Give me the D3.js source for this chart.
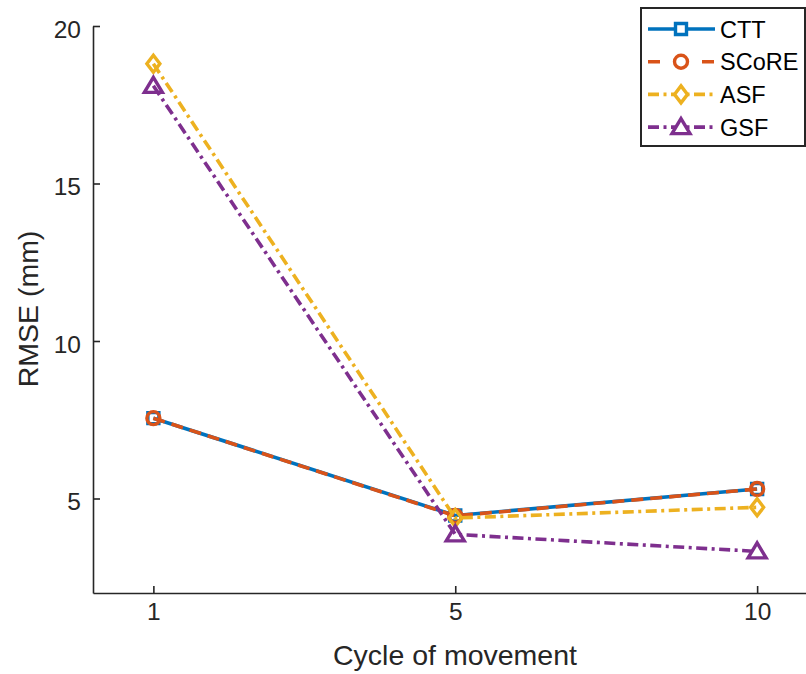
<!DOCTYPE html>
<html>
<head>
<meta charset="utf-8">
<script src="https://cdn.jsdelivr.net/npm/d3@7"></script>
<style>
  body { margin: 0; background: #fff; }
  text { font-family: "Liberation Sans", Arial, sans-serif; }
</style>
</head>
<body>
<svg id="chart"></svg>
<script>
// data
const cycles = ["1", "5", "10"];
const seriesNames = ["CTT", "SCoRE", "ASF", "GSF"];
const cttValues = [7.55, 4.46, 5.3];
const scoreValues = [7.55, 4.45, 5.3];
const asfValues = [18.8, 4.38, 4.72];
const gsfValues = [18.1, 3.86, 3.32];
const yTicks = [5, 10, 15, 20];

const W = 806, H = 674;
const svg = d3.select("#chart").attr("width", W).attr("height", H);

const x = d3.scaleLinear().domain([0.8, 3.2]).range([93, 817.5]);
const y = d3.scaleLinear().domain([2, 20]).range([593, 26]);

const axisColor = "#262626";

// y axis
const gy = svg.append("g")
  .attr("transform", "translate(93,0)")
  .call(d3.axisLeft(y).tickValues(yTicks).tickSizeInner(-7).tickSizeOuter(0).tickPadding(12));
gy.selectAll("text").attr("font-size", 24.5).attr("dy", "0.45em");

// x axis
const gx = svg.append("g")
  .attr("transform", "translate(0,593)")
  .call(d3.axisBottom(x).tickValues([1, 2, 3]).tickFormat((d, i) => cycles[i])
    .tickSizeInner(-7).tickSizeOuter(0).tickPadding(10));
gx.selectAll("text").attr("font-size", 24.5);

svg.selectAll(".domain, .tick line").attr("stroke", axisColor).attr("stroke-width", 1.6);
svg.selectAll(".tick text").attr("fill", axisColor).attr("font-family", "Liberation Sans, Arial, sans-serif");

svg.append("text")
  .attr("x", 455).attr("y", 665)
  .attr("text-anchor", "middle")
  .attr("font-size", 28.5).attr("fill", axisColor)
  .text("Cycle of movement");

svg.append("text")
  .attr("transform", "translate(38,309) rotate(-90)")
  .attr("text-anchor", "middle")
  .attr("font-size", 28.5).attr("fill", axisColor)
  .text("RMSE (mm)");

// marker shapes
function markerPath(type) {
  if (type === "square") return "M-5.5,-5.5H5.5V5.5H-5.5Z";
  if (type === "circle") return "M6.5,0A6.5,6.5 0 1,1 -6.5,0A6.5,6.5 0 1,1 6.5,0Z";
  if (type === "diamond") return "M0,-8.5L6.5,0L0,8.5L-6.5,0Z";
  return "M0,-8.5L9,6.5L-9,6.5Z"; // triangle
}

const dashDot = "11,4.5,3,4.5";
const series = [
  { name: seriesNames[0], values: cttValues, color: "#0072BD", dash: null, marker: "square" },
  { name: seriesNames[1], values: scoreValues, color: "#D95319", dash: "12,7", marker: "circle" },
  { name: seriesNames[2], values: asfValues, color: "#EDB120", dash: dashDot, marker: "diamond" },
  { name: seriesNames[3], values: gsfValues, color: "#7E2F8E", dash: dashDot, marker: "triangle" }
];

const line = d3.line().x((d, i) => x(i + 1)).y(d => y(d));

series.forEach(s => {
  svg.append("path")
    .attr("d", line(s.values))
    .attr("fill", "none")
    .attr("stroke", s.color)
    .attr("stroke-width", 3.6)
    .attr("stroke-dasharray", s.dash);

  svg.selectAll(null)
    .data(s.values)
    .enter()
    .append("path")
      .attr("transform", (d, i) => `translate(${x(i + 1)},${y(d)})`)
      .attr("d", markerPath(s.marker))
      .attr("fill", "none")
      .attr("stroke", s.color)
      .attr("stroke-width", 3.4);
});

// legend
const legend = svg.append("g");
legend.append("rect")
  .attr("x", 641).attr("y", 8).attr("width", 164).attr("height", 138)
  .attr("fill", "#fff").attr("stroke", "#262626").attr("stroke-width", 2);

const legendDash = { "square": null, "circle": "12,42", "diamond": dashDot, "triangle": dashDot };
series.forEach((s, i) => {
  const ly = 29 + i * 32.7;
  legend.append("line")
    .attr("x1", 648).attr("x2", 715).attr("y1", ly).attr("y2", ly)
    .attr("stroke", s.color).attr("stroke-width", 3.6)
    .attr("stroke-dasharray", legendDash[s.marker]);
  legend.append("path")
    .attr("transform", `translate(681,${ly})`)
    .attr("d", markerPath(s.marker))
    .attr("fill", "#fff")
    .attr("stroke", s.color).attr("stroke-width", 3.4);
  legend.append("text")
    .attr("x", 720).attr("y", ly + 8.5)
    .attr("font-size", 23.5).attr("fill", "#000")
    .text(s.name);
});
</script>
</body>
</html>
